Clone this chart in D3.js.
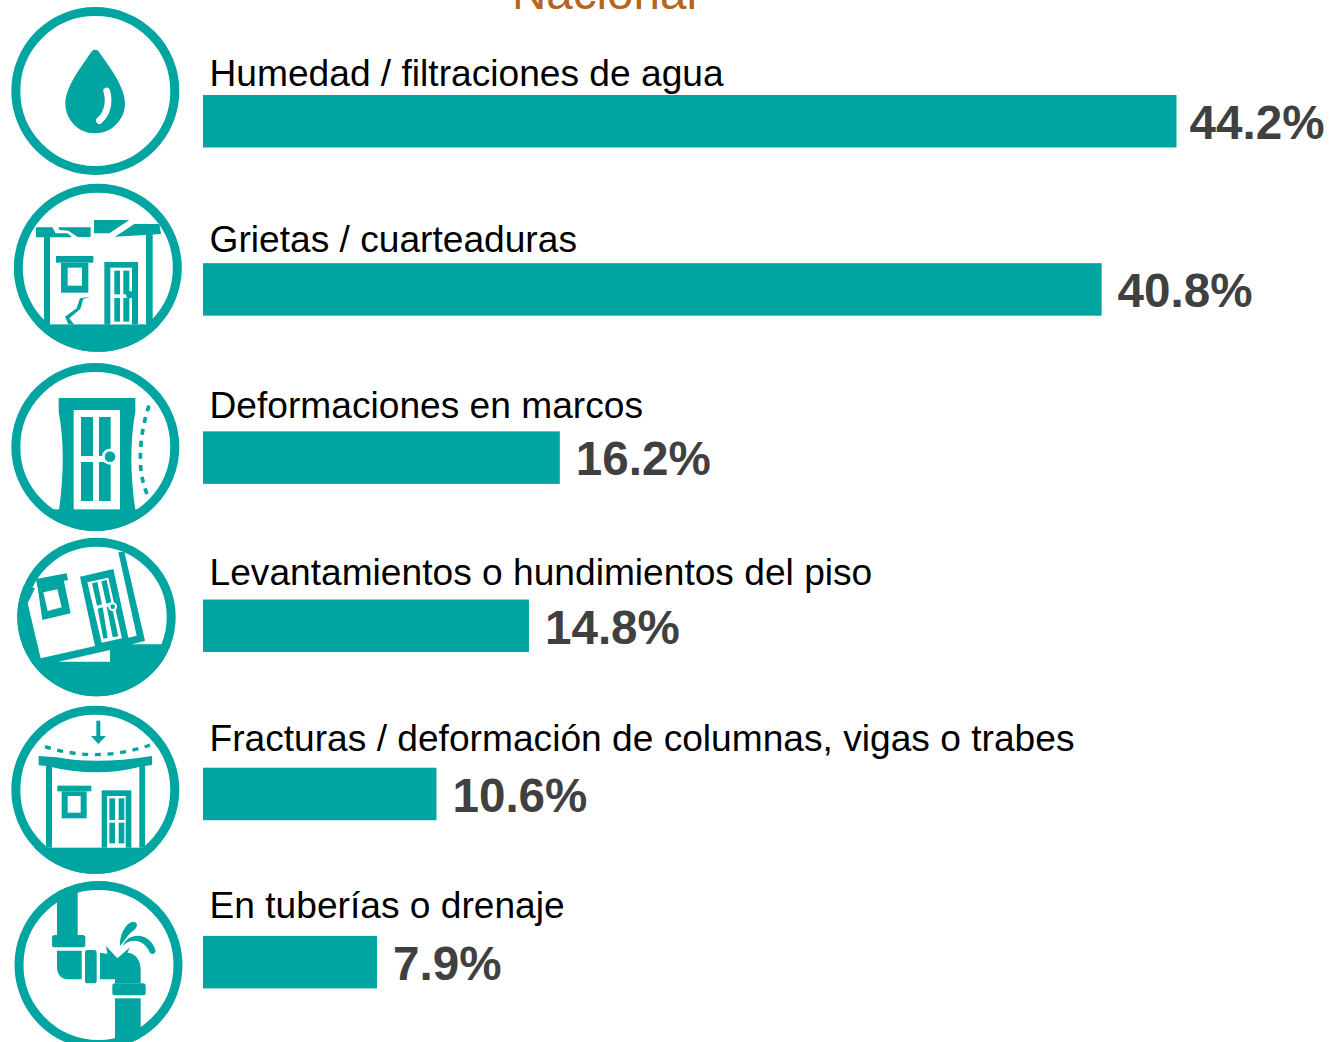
<!DOCTYPE html>
<html><head><meta charset="utf-8">
<script src="https://cdn.jsdelivr.net/npm/d3@7"></script>
<style>html,body{margin:0;background:#fff}svg{display:block}text{font-family:"Liberation Sans",Arial,sans-serif}</style>
</head><body><div id="c"></div>
<script>
const categories=["Humedad / filtraciones de agua","Grietas / cuarteaduras","Deformaciones en marcos","Levantamientos o hundimientos del piso","Fracturas / deformación de columnas, vigas o trabes","En tuberías o drenaje"];
const values=[44.2,40.8,16.2,14.8,10.6,7.9];
const title="Nacional";
const TEAL="#00A4A0",W=1332,H=1042;
const svg=d3.select("#c").append("svg").attr("width",W).attr("height",H);
svg.append("text").attr("x",604.5).attr("y",9).attr("text-anchor","middle").attr("font-size",47.6).attr("fill","#B5651D").text(title);

const y=d3.scaleBand().domain(categories).range([95,988.4]).paddingInner(115.7/168.2).paddingOuter(0);
const x=d3.scaleLinear().domain([0,44.2]).range([203,1176.5]);
const labelY=d3.scalePoint().domain(categories).range([85.5,917.5]);
const rows=svg.selectAll("g.row").data(categories.map((c,i)=>({c,v:values[i]}))).join("g").attr("class","row");
rows.append("rect").attr("x",x(0)).attr("y",d=>y(d.c)).attr("width",d=>x(d.v)-x(0)).attr("height",y.bandwidth()).attr("fill",TEAL);
rows.append("text").attr("x",209.5).attr("y",d=>labelY(d.c)).attr("font-size",37.15).attr("fill","#000").text(d=>d.c);
rows.append("text").attr("x",d=>Math.min(x(d.v)+16,1189.5)).attr("y",d=>y(d.c)+44).attr("font-size",47.6).attr("font-weight","bold").attr("fill","#404040").text(d=>d.v.toFixed(1)+"%");

/* icons: drawn in the zoomed (3x) coordinates of their own crop */
const defs=svg.append("defs");
function icon(id,cx,cy,r,oy,draw){
  const g=svg.append("g").attr("transform",`translate(0,${oy}) scale(${1/3})`);
  const zx=cx*3,zy=(cy-oy)*3,zr=r*3;
  defs.append("clipPath").attr("id",id).append("circle").attr("cx",zx).attr("cy",zy).attr("r",zr);
  const b=g.append("g").attr("clip-path",`url(#${id})`);
  draw(b);
  g.append("circle").attr("cx",zx).attr("cy",zy).attr("r",zr-13.5).attr("fill","none").attr("stroke",TEAL).attr("stroke-width",27);
}
const P=(g,d,f=TEAL)=>g.append("path").attr("d",d).attr("fill",f);
const R=(g,x0,y0,x1,y1,f=TEAL,rx=0)=>g.append("rect").attr("x",x0).attr("y",y0).attr("width",x1-x0).attr("height",y1-y0).attr("fill",f).attr("rx",rx);
const C=(g,cx,cy,r,f=TEAL)=>g.append("circle").attr("cx",cx).attr("cy",cy).attr("r",r).attr("fill",f);
const L=(g,d,w,c=TEAL,dash=null,cap="butt")=>g.append("path").attr("d",d).attr("fill","none").attr("stroke",c).attr("stroke-width",w).attr("stroke-dasharray",dash).attr("stroke-linecap",cap);

icon("i1",95.3,91,84,0,g=>{
  P(g,"M276 153Q285 145 295 153C322 192 375 258 375 310C375 360 335 400 285 400C235 400 196 360 196 310C196 258 250 192 276 153Z");
  L(g,"M320 273C330 305 322 342 298 362",20,"#fff",null,"round");
});
icon("i2",97.8,267.8,84,0,g=>{
  R(g,0,973,600,1080);
  P(g,"M108 682L157 682L167 700L203 700L216 712L108 712Z");
  P(g,"M175 682L272 682L272 711L233 711L205 692L178 690Z");
  P(g,"M282 660L388 660L328 700L282 700Z");
  P(g,"M403 672L478 672L483 702L345 710Z");
  R(g,132,705,150,973);R(g,438,702,458,973);
  R(g,168,768,280,788);R(g,183,788,265,878);R(g,203,803,246,857,"#fff");
  R(g,313,786,414,973);R(g,331,803,396,973,"#fff");
  [[343,812,360,883],[370,812,388,883],[343,894,360,965],[370,894,388,965]].forEach(a=>R(g,...a));
  C(g,389,884,11);
  P(g,"M240 895L272 890L250 897L241 927L208 955L222 973L205 973L195 950L230 925Z");
});
icon("i3",95.3,447,84,355,g=>{
  R(g,0,463,600,540);
  P(g,"M176 129H406V170Q382 300 406 465H177Q200 300 176 170Z");
  R(g,221,165,360,463,"#fff");
  [[243,186,279,303],[297,186,332,303],[243,321,279,438],[297,321,332,438]].forEach(a=>R(g,...a));
  C(g,330,305,24,"#fff");C(g,330,305,16);
  L(g,"M447 152C425 215 415 300 425 360C430 390 440 415 447 432",11,TEAL,"18 18");
});
icon("i4",96.5,617,79.2,355,g=>{
  P(g,"M30 680L105 700L83 745L122 910L285 873L300 870L435 857L395 868L540 868L540 1040L30 1040Z");
  P(g,"M175 920L330 885L330 920Z","#fff");
  P(g,"M355 592L373 590L435 857L390 868L300 876L285 873L240 665L340 642L385 848L410 842Z");
  P(g,"M262 682L325 668L366 850L305 863Z","#fff");
  [[276,685,292,681,306,748,291,752],[304,679,320,675,334,742,319,746],[293,761,308,757,323,848,310,851],[320,755,335,752,355,844,338,847]].forEach(a=>P(g,`M${a[0]} ${a[1]}L${a[2]} ${a[3]}L${a[4]} ${a[5]}L${a[6]} ${a[7]}Z`));
  C(g,338,755,13,"#fff");C(g,338,755,7);
  P(g,"M108 672L200 655L204 675L112 695Z");
  P(g,"M112 690L190 670L212 775L127 795Z");
  P(g,"M130 712L172 703L185 757L143 768Z","#fff");
});
icon("i5",95.3,789.8,84,700,g=>{
  R(g,0,443,600,540);
  L(g,"M135 140Q295 190 450 135",10,TEAL,"18 20");
  R(g,289,62,301,110);P(g,"M273 108H318L295 132Z");
  P(g,"M116 168L170 172Q290 195 456 168V195L420 200Q290 235 140 198L116 196Z");
  R(g,138,196,156,443);R(g,418,196,435,443);
  R(g,172,257,274,274);R(g,185,274,260,355);R(g,203,288,242,338,"#fff");
  R(g,305,271,394,443);R(g,321,288,377,443,"#fff");
  [[328,295,345,360],[356,295,373,360],[328,368,345,430],[356,368,373,430]].forEach(a=>R(g,...a));
});
icon("i6",98.5,965,84,700,g=>{
  R(g,171,560,233,705);
  R(g,156,705,256,742,TEAL,8);
  P(g,"M171 752H245V838H210Q171 838 171 800Z");
  R(g,255,750,290,850,TEAL,8);
  P(g,"M300 758L322 762L318 738L352 775L390 742L382 758C410 760 422 785 422 810V850H345V838H300Z");
  R(g,337,850,437,886,TEAL,8);
  R(g,345,895,422,1040);
  P(g,"M360 738C358 700 382 665 400 665C418 668 412 685 395 695C380 708 372 725 360 738Z");
  P(g,"M368 738C385 695 450 695 467 752C464 766 450 764 447 752C430 718 392 712 368 738Z");
});
</script></body></html>
